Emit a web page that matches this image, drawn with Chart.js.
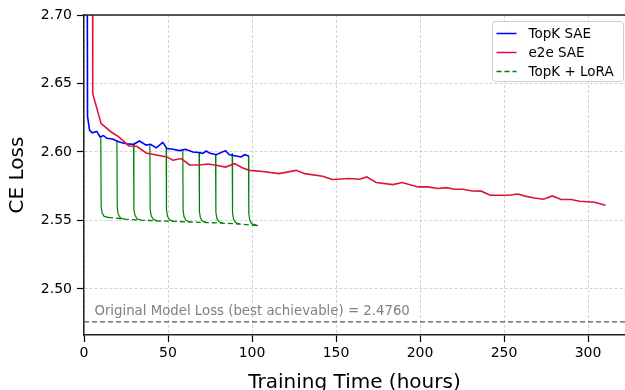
<!DOCTYPE html>
<html>
<head>
<meta charset="utf-8">
<script src="https://cdn.jsdelivr.net/npm/chart.js@4.4.1/dist/chart.umd.min.js"></script>
<style>
  html, body { margin: 0; padding: 0; background: #fff; overflow: hidden; }
</style>
</head>
<body>
<canvas id="myChart" width="625" height="390"></canvas>
<script>
// TopK SAE run
const topkHours = [1.5, 2.1, 3.3, 4.9, 7.6, 9.6, 11.6, 13.6, 17.1, 19.5, 22.1, 25.1, 29.5, 33, 37, 39.6, 43, 46.9, 49.3, 52.9, 56.8, 60.4, 64.8, 68.3, 70.7, 72.7, 75.1, 78.7, 84.2, 86.6, 93.6, 95.5, 98.1];
const topkLoss = [3.0, 2.626, 2.616, 2.614, 2.615, 2.611, 2.612, 2.610, 2.6095, 2.608, 2.607, 2.606, 2.6056, 2.608, 2.605, 2.6056, 2.603, 2.607, 2.6025, 2.602, 2.601, 2.602, 2.600, 2.5996, 2.599, 2.6007, 2.599, 2.598, 2.601, 2.598, 2.5964, 2.598, 2.597];

// e2e SAE run
const e2eHours = [4.9, 5.2, 10.2, 16.2, 20.7, 26.7, 31.4, 37, 43, 49.3, 52.9, 57.9, 62.8, 68.8, 73.7, 78.7, 84.2, 89.6, 94.5, 98.5, 106.4, 116, 126.3, 131.3, 142.1, 147.7, 158, 164, 168.3, 173.9, 183.8, 189.4, 198.7, 204.7, 210.6, 215.6, 220.5, 225.5, 231.1, 236.4, 241.8, 246.9, 252.9, 258.2, 263.2, 268.2, 273.5, 278.7, 284, 290, 294.9, 303.9, 310.4];
const e2eLoss = [3.0, 2.6426, 2.6207, 2.6146, 2.611, 2.6044, 2.6042, 2.5993, 2.5978, 2.5964, 2.594, 2.5952, 2.5905, 2.5905, 2.5912, 2.5903, 2.589, 2.5915, 2.5883, 2.5866, 2.5857, 2.5842, 2.5866, 2.5842, 2.5823, 2.5799, 2.5806, 2.5801, 2.5818, 2.5777, 2.5762, 2.5777, 2.5745, 2.5745, 2.5733, 2.574, 2.5728, 2.5728, 2.5715, 2.5714, 2.5684, 2.5684, 2.5684, 2.5693, 2.5676, 2.5664, 2.5655, 2.5679, 2.5653, 2.5653, 2.564, 2.5633, 2.5611];

// LoRA finetunes from TopK checkpoints
const loraStartHours = [10, 19.6, 29.5, 39.2, 48.9, 58.8, 68.5, 78.3, 88.2, 97.9];
const loraStartLoss = [2.611, 2.608, 2.6056, 2.6056, 2.6025, 2.6015, 2.5996, 2.598, 2.599, 2.597];
const loraKneeOffsets = [0.2, 0.8, 2.0];
const loraKneeHigh = [2.560, 2.559, 2.558, 2.558, 2.5575, 2.557, 2.5565, 2.556, 2.5555, 2.555];
const loraKneeMid = [2.5555, 2.5545, 2.554, 2.5535, 2.553, 2.5525, 2.552, 2.5515, 2.551, 2.550];
const loraKneeLow = [2.553, 2.552, 2.5513, 2.5508, 2.5504, 2.55, 2.5495, 2.549, 2.5485, 2.5475];
const loraEndHours = [14.3, 24, 34, 43.7, 53.4, 63.3, 73, 82.8, 92.7, 103.5];
const loraEndLoss = [2.5523, 2.551, 2.5502, 2.5497, 2.5494, 2.5489, 2.5485, 2.548, 2.5474, 2.5462];

const baselineLoss = 2.476;
const noteText = 'Original Model Loss (best achievable) = 2.4760';
const noteAt = [6.2, 2.4812];

const xTicks = [0, 50, 100, 150, 200, 250, 300];
const yTicks = [2.50, 2.55, 2.60, 2.65, 2.70];
const xRange = [0, 322];
const yRange = [2.4664, 2.70];

const toPoints = (xs, ys) => xs.map((x, i) => ({x: x, y: ys[i]}));

const loraCurves = loraStartHours.map((h, i) => ({
  data: [
    {x: h, y: loraStartLoss[i]},
    {x: h + loraKneeOffsets[0], y: loraKneeHigh[i]},
    {x: h + loraKneeOffsets[1], y: loraKneeMid[i]},
    {x: h + loraKneeOffsets[2], y: loraKneeLow[i]},
    {x: loraEndHours[i], y: loraEndLoss[i]}
  ],
  borderColor: '#008000',
  borderWidth: 1.2,
  pointRadius: 0,
  tension: 0,
  order: 3
}));

const frame = {
  id: 'frame',
  afterDraw(chart) {
    const {ctx, chartArea: a, scales} = chart;
    ctx.save();
    // top spine
    ctx.strokeStyle = '#222';
    ctx.lineWidth = 1.5;
    ctx.beginPath();
    ctx.moveTo(a.left, a.top);
    ctx.lineTo(a.right, a.top);
    ctx.stroke();

    // note above the baseline
    ctx.fillStyle = '#808080';
    ctx.font = '13.3px "DejaVu Sans"';
    ctx.textBaseline = 'alphabetic';
    ctx.textAlign = 'left';
    ctx.fillText(noteText, scales.x.getPixelForValue(noteAt[0]), scales.y.getPixelForValue(noteAt[1]));

    // legend box
    const items = chart.data.datasets.filter(d => d.label);
    const bx = 492.5, by = 21.5, bw = 131, bh = 60;
    ctx.fillStyle = 'rgba(255,255,255,0.85)';
    ctx.strokeStyle = '#cccccc';
    ctx.lineWidth = 1;
    ctx.beginPath();
    ctx.roundRect(bx, by, bw, bh, 3);
    ctx.fill();
    ctx.stroke();
    ctx.font = '13.5px "DejaVu Sans"';
    ctx.textBaseline = 'middle';
    items.forEach((d, i) => {
      const y = by + 12 + i * 19;
      ctx.strokeStyle = d.borderColor;
      ctx.lineWidth = 1.5;
      ctx.setLineDash(d.borderDash || []);
      ctx.beginPath();
      ctx.moveTo(bx + 4, y);
      ctx.lineTo(bx + 24, y);
      ctx.stroke();
      ctx.setLineDash([]);
      ctx.fillStyle = '#000';
      ctx.fillText(d.label, bx + 36, y + 1);
    });
    ctx.restore();
  }
};

const gridStyle = {
  color: '#c8c8c8',
  lineWidth: 0.8,
  tickColor: '#000',
  tickLength: 7,
  tickWidth: 1.2
};
const borderStyle = { display: true, color: '#222', width: 1.5, dash: [3, 2] };

const ctx = document.getElementById('myChart').getContext('2d');
const myChart = new Chart(ctx, {
  type: 'line',
  data: {
    datasets: [
      {
        label: 'TopK SAE',
        data: toPoints(topkHours, topkLoss),
        borderColor: '#0000ff',
        borderWidth: 1.6,
        pointRadius: 0,
        tension: 0,
        order: 2
      },
      {
        label: 'e2e SAE',
        data: toPoints(e2eHours, e2eLoss),
        borderColor: '#dc143c',
        borderWidth: 1.6,
        pointRadius: 0,
        tension: 0,
        order: 1
      },
      {
        label: 'TopK + LoRA',
        data: toPoints(loraEndHours, loraEndLoss),
        borderColor: '#008000',
        borderDash: [5, 3],
        borderWidth: 1.3,
        pointRadius: 0,
        tension: 0,
        order: 0
      },
      ...loraCurves,
      {
        data: toPoints(xRange, [baselineLoss, baselineLoss]),
        borderColor: '#555',
        borderDash: [5, 3],
        borderWidth: 1.1,
        pointRadius: 0,
        order: 4
      }
    ]
  },
  options: {
    responsive: false,
    animation: false,
    events: [],
    layout: { padding: { top: 15, left: 0, right: 0, bottom: 0 } },
    plugins: {
      legend: { display: false },
      tooltip: { enabled: false }
    },
    scales: {
      x: {
        type: 'linear',
        min: xRange[0],
        max: xRange[1],
        afterBuildTicks: axis => { axis.ticks = xTicks.map(v => ({value: v})); },
        afterFit: s => { s.height = 55; },
        ticks: { font: { family: 'DejaVu Sans', size: 14 }, color: '#000', padding: 3, maxRotation: 0 },
        grid: gridStyle,
        border: borderStyle,
        title: {
          display: true,
          text: 'Training Time (hours)',
          font: { family: 'DejaVu Sans', size: 20 },
          color: '#000',
          padding: { top: 0, bottom: -5 }
        }
      },
      y: {
        type: 'linear',
        min: yRange[0],
        max: yRange[1],
        afterBuildTicks: axis => { axis.ticks = yTicks.map(v => ({value: v})); },
        afterFit: s => { s.width = 84; },
        ticks: {
          font: { family: 'DejaVu Sans', size: 14 },
          color: '#000',
          padding: 5,
          callback: v => v.toFixed(2)
        },
        grid: gridStyle,
        border: borderStyle,
        title: {
          display: true,
          text: 'CE Loss',
          font: { family: 'DejaVu Sans', size: 20 },
          color: '#000',
          padding: { top: 6, bottom: 0 }
        }
      }
    }
  },
  plugins: [frame]
});
</script>
</body>
</html>
